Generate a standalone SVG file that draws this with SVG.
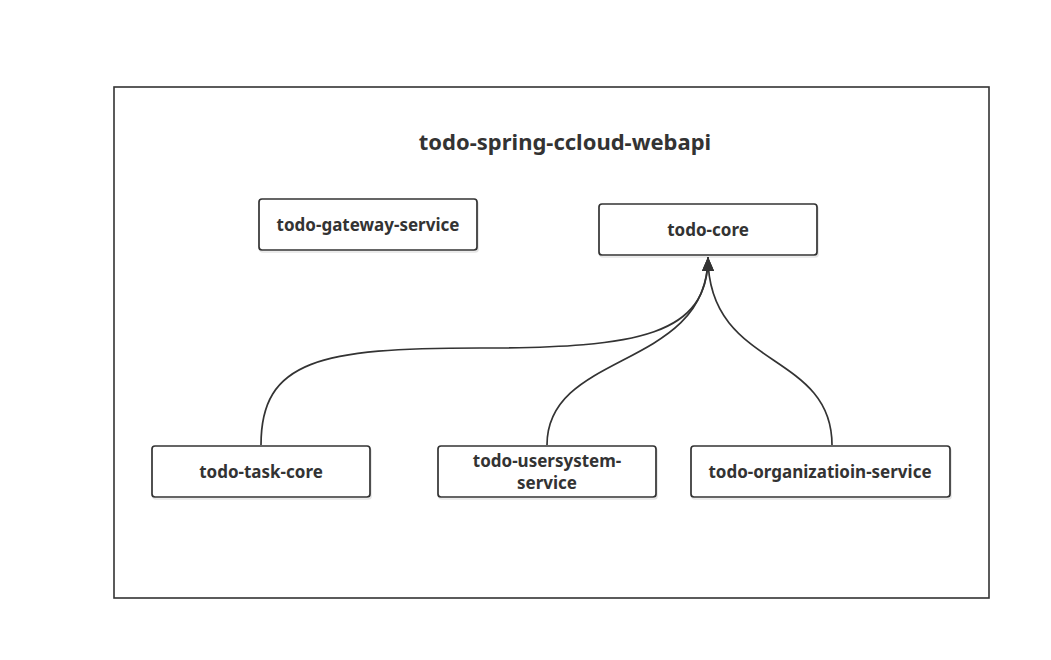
<svg xmlns="http://www.w3.org/2000/svg" width="1051" height="660" viewBox="0 0 1051 660">
<style>
.node rect{fill:#fff;stroke:#333;stroke-width:1.7}
.shadow{fill:#000;opacity:0.12}
text{font-family:"Noto Sans","Open Sans","DejaVu Sans",sans-serif;font-weight:bold;fill:#333;text-anchor:middle}
.lbl{font-size:17px}
.title{font-size:22px}
.conn path{fill:none;stroke:#333;stroke-width:1.7}
</style>
<defs>
<marker id="arr" viewBox="0 0 14 12" refX="14" refY="6" markerWidth="14" markerHeight="12" markerUnits="userSpaceOnUse" orient="auto">
<path d="M0,0 L14,6 L0,12 Z" fill="#333"/>
</marker>
</defs>
<rect width="1051" height="660" fill="#fff"/>
<g id="container">
<rect x="114" y="87" width="875" height="511" fill="#fff" stroke="#333" stroke-width="1.6"/>
<text class="title" x="565" y="150">todo-spring-ccloud-webapi</text>
</g>
<g id="gateway" class="node">
<rect class="shadow" x="260" y="201" width="218" height="51" rx="3"/>
<rect x="259" y="199" width="218" height="51" rx="3"/>
<text class="lbl" x="368" y="231">todo-gateway-service</text>
</g>
<g id="core" class="node">
<rect class="shadow" x="600" y="206" width="218" height="51" rx="3"/>
<rect x="599" y="204" width="218" height="51" rx="3"/>
<text class="lbl" x="708" y="236">todo-core</text>
</g>
<g id="taskcore" class="node">
<rect class="shadow" x="153" y="448" width="218" height="51" rx="3"/>
<rect x="152" y="446" width="218" height="51" rx="3"/>
<text class="lbl" x="261" y="478">todo-task-core</text>
</g>
<g id="usersystem" class="node">
<rect class="shadow" x="439" y="448" width="218" height="51" rx="3"/>
<rect x="438" y="446" width="218" height="51" rx="3"/>
<text class="lbl" x="547" y="467">todo-usersystem-</text>
<text class="lbl" x="547" y="489">service</text>
</g>
<g id="organization" class="node">
<rect class="shadow" x="692" y="448" width="259" height="51" rx="3"/>
<rect x="691" y="446" width="259" height="51" rx="3"/>
<text class="lbl" x="820" y="478">todo-organizatioin-service</text>
</g>
<g id="connectors" class="conn">
<path d="M261,445 C261,360 320,348 480,348 C640,348 708,335 708,257" marker-end="url(#arr)"/>
<path d="M547,445 C547,350 708,370 708,257" marker-end="url(#arr)"/>
<path d="M832,445 C832,350 708,370 708,257" marker-end="url(#arr)"/>
</g>
</svg>
